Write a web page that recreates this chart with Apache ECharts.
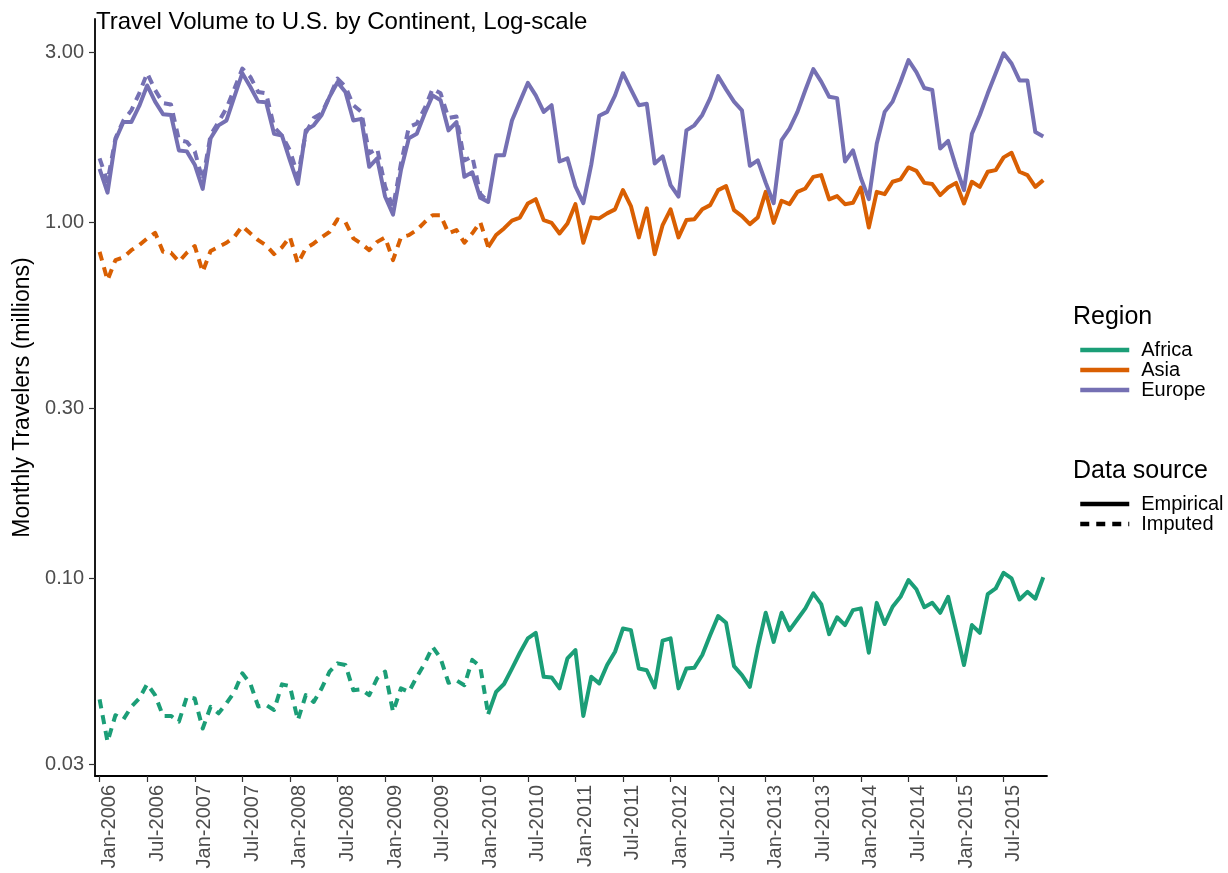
<!DOCTYPE html>
<html>
<head>
<meta charset="utf-8">
<script src="https://cdn.jsdelivr.net/npm/echarts@6/dist/echarts.min.js"></script>
<style>
html,body{margin:0;padding:0;background:#ffffff;}
#chart{width:1228px;height:873px;}
</style>
</head>
<body>
<div id="chart"></div>
<script>
// ---------- data ----------
const monthNames = ['Jan','Feb','Mar','Apr','May','Jun','Jul','Aug','Sep','Oct','Nov','Dec'];
const years = [2006,2007,2008,2009,2010,2011,2012,2013,2014,2015];
const months = [];
years.forEach(y => monthNames.forEach(m => months.push(m + '-' + y)));

const xTickLabels = ['Jan-2006','Jul-2006','Jan-2007','Jul-2007','Jan-2008','Jul-2008','Jan-2009','Jul-2009',
  'Jan-2010','Jul-2010','Jan-2011','Jul-2011','Jan-2012','Jul-2012','Jan-2013','Jul-2013','Jan-2014','Jul-2014',
  'Jan-2015','Jul-2015'];
const yTickValues = [0.03, 0.10, 0.30, 1.00, 3.00];

const regions = ['Africa','Asia','Europe'];
const sources = ['Empirical','Imputed'];

// Imputed series: Jan-2006 .. Feb-2010
const imputedStart = 'Jan-2006';
const africaImputed = [0.0456,0.0347,0.0412,0.0401,0.0435,0.0459,0.0504,0.0469,0.041,0.041,0.0395,0.0464,
  0.0459,0.0378,0.0435,0.0417,0.0445,0.0479,0.054,0.0506,0.0436,0.044,0.0426,0.0503,
  0.0497,0.0399,0.0469,0.0449,0.049,0.0546,0.0576,0.057,0.0484,0.0487,0.0469,0.0523,
  0.0546,0.0421,0.049,0.0479,0.0528,0.0576,0.0641,0.0595,0.0508,0.0516,0.05,0.0589,
  0.0564,0.0415];
const asiaImputed = [0.825,0.687,0.782,0.796,0.834,0.862,0.90,0.933,0.825,0.82,0.774,0.82,
  0.856,0.725,0.83,0.852,0.875,0.909,0.974,0.93,0.89,0.86,0.813,0.85,
  0.909,0.765,0.844,0.871,0.906,0.939,1.018,1.0,0.90,0.87,0.834,0.88,
  0.906,0.782,0.906,0.919,0.95,1.0,1.046,1.046,0.93,0.95,0.875,0.93,
  1.0,0.852];
const europeImputed = [1.51,1.30,1.72,1.93,2.06,2.30,2.62,2.35,2.16,2.14,1.70,1.68,
  1.58,1.31,1.76,1.91,2.09,2.37,2.70,2.56,2.32,2.30,1.85,1.75,
  1.59,1.35,1.78,1.96,2.02,2.25,2.53,2.40,2.13,2.04,1.56,1.61,
  1.26,1.10,1.46,1.85,1.89,2.09,2.37,2.30,1.96,1.98,1.49,1.53,
  1.20,1.14];

// Empirical series
const europeEmpiricalStart = 'Jan-2006';
const europeEmpirical = [1.41,1.21,1.70,1.91,1.91,2.12,2.42,2.18,2.01,2.00,1.59,1.58,
  1.45,1.24,1.72,1.87,1.93,2.25,2.62,2.40,2.18,2.17,1.77,1.75,
  1.49,1.28,1.81,1.87,2.00,2.25,2.47,2.32,1.93,1.95,1.43,1.51,
  1.18,1.05,1.40,1.72,1.77,2.02,2.27,2.20,1.81,1.91,1.34,1.38,
  1.17,1.14,1.54,1.54,1.93,2.18,2.46,2.27,2.04,2.13,1.48,1.51,
  1.26,1.13,1.45,1.99,2.04,2.27,2.62,2.36,2.13,2.15,1.46,1.53,
  1.27,1.18,1.81,1.87,2.00,2.23,2.57,2.36,2.18,2.06,1.44,1.49,
  1.29,1.13,1.70,1.83,2.04,2.35,2.69,2.48,2.25,2.23,1.48,1.59,
  1.33,1.16,1.66,2.04,2.18,2.48,2.85,2.64,2.38,2.35,1.61,1.69,
  1.43,1.23,1.77,2.00,2.30,2.62,2.98,2.79,2.50,2.50,1.79,1.74];

const empiricalStart = 'Feb-2010';
const asiaEmpirical = [0.85,0.92,0.96,1.01,1.03,1.128,1.16,1.013,0.995,0.929,0.991,
  1.123,0.875,1.031,1.024,1.058,1.086,1.23,1.109,0.906,1.093,0.813,0.981,
  1.086,0.906,1.013,1.018,1.086,1.116,1.23,1.262,1.081,1.04,0.987,1.031,
  1.216,0.995,1.148,1.123,1.216,1.243,1.34,1.355,1.158,1.183,1.123,1.133,
  1.251,0.966,1.216,1.198,1.298,1.318,1.424,1.393,1.289,1.279,1.191,1.251,
  1.289,1.128,1.298,1.256,1.385,1.40,1.52,1.565,1.385,1.355,1.256,1.312];
const africaEmpirical = [0.0415,0.0479,0.0504,0.0557,0.0617,0.0677,0.0702,0.0528,0.0526,0.049,0.0595,
  0.0628,0.041,0.0528,0.0506,0.057,0.0621,0.0722,0.0714,0.0557,0.0551,0.0493,0.0667,
  0.0677,0.049,0.0557,0.056,0.0608,0.0692,0.0782,0.0749,0.0566,0.0534,0.0495,0.0639,
  0.0799,0.0662,0.0799,0.0714,0.0766,0.0822,0.0906,0.0845,0.0696,0.0776,0.0738,0.0813,
  0.0822,0.0617,0.0852,0.0743,0.0831,0.0886,0.0987,0.093,0.0828,0.0852,0.0799,0.0886,
  0.0714,0.057,0.0738,0.0702,0.0902,0.0935,0.1035,0.0998,0.0871,0.0915,0.0875,0.1005];

// ---------- styling ----------
const colors = { Africa: '#1b9e77', Asia: '#d95f02', Europe: '#7570b3' };
const FONT = '"Liberation Sans", Arial, sans-serif';
const LW = 4;
const DASH = [9, 7];

function toPairs(values, startLabel) {
  const s = months.indexOf(startLabel);
  return values.map((v, k) => [s + k, v]);
}
function lineSeries(name, data, color, dashed, z) {
  return {
    name: name, type: 'line', data: data, symbol: 'none', showSymbol: false,
    smooth: false, z: z, animation: false,
    lineStyle: { color: color, width: LW, type: dashed ? DASH : 'solid', cap: 'butt', join: 'round' },
    itemStyle: { color: color },
    emphasis: { disabled: true }
  };
}

const series = [
  lineSeries('Africa', toPairs(africaEmpirical, empiricalStart), colors.Africa, false, 2),
  lineSeries('Asia', toPairs(asiaEmpirical, empiricalStart), colors.Asia, false, 2),
  lineSeries('Europe', toPairs(europeEmpirical, europeEmpiricalStart), colors.Europe, false, 2),
  lineSeries('Africa imputed', toPairs(africaImputed, imputedStart), colors.Africa, true, 3),
  lineSeries('Asia imputed', toPairs(asiaImputed, imputedStart), colors.Asia, true, 3),
  lineSeries('Europe imputed', toPairs(europeImputed, imputedStart), colors.Europe, true, 3),
  lineSeries('Empirical', [], '#000000', false, 1),
  lineSeries('Imputed', [], '#000000', true, 1)
];

const legendCommon = {
  orient: 'vertical', left: 1078, itemWidth: 49, itemHeight: 20, itemGap: 0, padding: 0,
  selectedMode: false,
  itemStyle: { opacity: 0 },
  lineStyle: { width: 4.5 },
  textStyle: { fontFamily: FONT, fontSize: 20, color: '#000', lineHeight: 20, padding: [0, 0, 0, 7] }
};

const chart = echarts.init(document.getElementById('chart'), null, { renderer: 'canvas' });
chart.setOption({
  animation: false,
  backgroundColor: '#ffffff',
  title: {
    text: 'Travel Volume to U.S. by Continent, Log-scale',
    left: 96, top: 10, padding: 0,
    textStyle: { fontFamily: FONT, fontSize: 24, fontWeight: 'normal', color: '#000' }
  },
  grid: { left: 95, right: 181, top: 19, bottom: 97, containLabel: false, outerBoundsMode: 'none' },
  xAxis: {
    type: 'value',
    min: -0.58, max: 119.47,
    splitLine: { show: false },
    axisLine: { show: true, onZero: false, lineStyle: { color: '#000', width: 1.8 } },
    axisTick: { show: true, length: 6, lineStyle: { color: '#333', width: 1.2 },
      customValues: xTickLabels.map(l => months.indexOf(l)) },
    axisLabel: {
      customValues: xTickLabels.map(l => months.indexOf(l)),
      formatter: v => months[Math.round(v)],
      rotate: 90, margin: 9, verticalAlign: 'top',
      fontFamily: FONT, fontSize: 20, color: '#4d4d4d'
    }
  },
  yAxis: {
    type: 'log', logBase: 10,
    min: 0.0278, max: 3.72,
    name: 'Monthly Travelers (millions)',
    nameLocation: 'middle', nameRotate: 90, nameGap: 57,
    nameTextStyle: { fontFamily: FONT, fontSize: 23, color: '#000' },
    splitLine: { show: false },
    axisLine: { show: true, onZero: false, lineStyle: { color: '#000', width: 1.8 } },
    axisTick: { show: true, length: 6, lineStyle: { color: '#333', width: 1.2 }, customValues: yTickValues },
    axisLabel: {
      customValues: yTickValues,
      formatter: v => Number(v).toFixed(2),
      margin: 11, fontFamily: FONT, fontSize: 20, color: '#4d4d4d'
    }
  },
  legend: [
    Object.assign({}, legendCommon, { data: regions, top: 340 }),
    Object.assign({}, legendCommon, { data: sources, top: 494 })
  ],
  graphic: [
    { type: 'text', left: 1073, top: 305, style: { text: 'Region', fontFamily: FONT, fontSize: 25, fill: '#000' } },
    { type: 'text', left: 1073, top: 459, style: { text: 'Data source', fontFamily: FONT, fontSize: 25, fill: '#000' } }
  ],
  series: series
});
</script>
</body>
</html>
